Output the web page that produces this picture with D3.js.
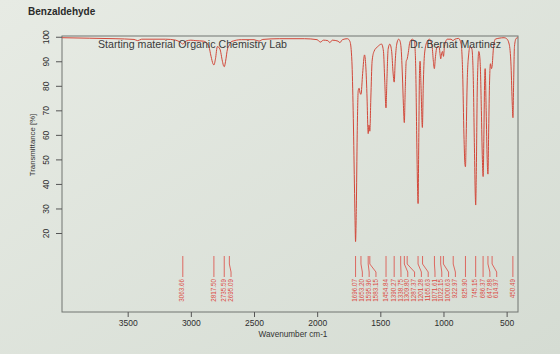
<!DOCTYPE html>
<html>
<head>
<meta charset="utf-8">
<script src="https://cdn.jsdelivr.net/npm/d3@7"></script>
<style>
body{margin:0;background:#dfe4dc;}
svg{display:block;font-family:"Liberation Sans",Arial,sans-serif;}
</style>
</head>
<body>
<svg class="graph1"></svg>
<script>
// spectrum (wavenumber cm-1, transmittance %)
var wavenumbers = [4020,3800,3600,3450,3420,3390,3200,3120,3085,3063,3040,3000,2960,2900,
    2860,2840,2825,2817,2805,2790,2770,2750,2740,2735,2725,2710,2695,2680,2600,2500,2460,2430,
    2300,2100,2000,1975,1950,1915,1900,1880,1835,1820,1800,1760,1740,1725,1715,1705,1700,1696,
    1690,1683,1675,1668,1660,1653,1640,1625,1615,1605,1598,1596,1590,1583,1575,1565,1550,1520,
    1490,1475,1465,1455,1448,1438,1425,1410,1400,1390,1382,1370,1355,1345,1335,1325,1317,1310,
    1303,1295,1287,1280,1265,1245,1230,1220,1212,1205,1201,1196,1190,1185,1178,1167,1160,1150,
    1130,1110,1090,1080,1072,1065,1050,1035,1025,1022,1015,1008,1000,992,970,940,925,910,880,
    860,848,838,830,826,820,812,800,790,775,765,755,748,745,740,732,720,710,700,692,686,680,
    675,670,662,654,648,642,635,628,620,615,605,590,560,520,500,480,465,455,450,445,438,425,412];
var transmittance = [99.6,99.4,99.2,98.9,98.4,99.0,99.0,98.6,97.8,97.0,98.2,98.6,98.4,98.2,
    96.5,92,89,88.5,91,96,95,90,88,87.8,90,95,96.5,98,98.8,98.8,98.2,98.9,
    99.2,99.2,98.8,97.8,98.6,98.4,97.6,98.6,98.2,97.6,98.8,99.2,98,90,70,40,25,16.5,
    30,60,78,79,77,76.5,85,92.6,88,75,62,60.5,64,61.5,75,90,94,96,
    97,94,82,71,82,95,97,94,86,81.5,90,97,99,98.4,95,84,72,65,
    78,90,91,93,98,99,98,88,60,38,32,55,85,90,80,63,80,93,
    98,99,96,90,87,91,96,96,92,91,93,94,92,96,99,99,98.4,99,99.3,
    97,85,60,48,47,60,82,93,96,95,85,55,35,31.4,45,80,94,90,70,50,43,60,
    80,87,70,50,44,62,82,89,87,88,95,99,99.4,99.6,99.2,97,88,72,67,80,96,99.3,99.6];

// picked peaks printed at the bottom
var peakLabels = [3063.66,2817.50,2735.59,2695.09,1696.07,1653.20,1595.96,1583.15,1454.84,
    1390.27,1338.75,1309.80,1287.37,1201.28,1165.63,1071.61,1022.15,1000.63,922.97,825.90,
    745.15,686.37,647.88,614.97,450.49];

var xTicks = [3500,3000,2500,2000,1500,1000,500];
var yTicks = [20,30,40,50,60,70,80,90,100];

var makeTranslateString = function(x,y)
{
    return "translate("+x+","+y+")";
}

var drawBox = function(svg,xScale,yScale)
{
    var r = xScale.range(), h = yScale.range();
    svg.append("rect")
    .attr("x", r[0])
    .attr("y", h[1])
    .attr("width", r[1]-r[0])
    .attr("height", h[0]-h[1])
    .attr("fill", "none")
    .attr("stroke", "#707570")
    .attr("stroke-width", 1)
}

var drawAxes = function(svg,xScale,yScale)
{
    var xAxis = d3.axisBottom(xScale).tickValues(xTicks).tickFormat(d3.format("d")).tickSize(5).tickPadding(3);
    var yAxis = d3.axisLeft(yScale).tickValues(yTicks).tickFormat(d3.format("d")).tickSize(6).tickPadding(3);

    var gx = svg.append("g")
    .attr("transform", makeTranslateString(0, yScale.range()[0]))
    .call(xAxis)
    gx.select(".domain").remove();
    gx.selectAll("line").attr("stroke", "#555");
    gx.selectAll("text")
    .attr("font-size", 8.5)
    .attr("fill", "#2e2e2e")

    var gy = svg.append("g")
    .attr("transform", makeTranslateString(xScale.range()[0], 0))
    .call(yAxis)
    gy.select(".domain").remove();
    gy.selectAll("line").attr("stroke", "#555");
    gy.selectAll("text")
    .attr("font-size", 8.5)
    .attr("fill", "#2e2e2e")
    .attr("text-anchor", "middle")
    .attr("dy", null)
    .attr("dominant-baseline", "middle")
    .attr("x", null)
    .attr("transform", "translate(-15,0) rotate(-90)")
}

var drawSpectrum = function(svg,xScale,yScale)
{
    var pts = wavenumbers.map(function(w,i){ return {wn:w, t:transmittance[i]}; });
    var line = d3.line()
        .x(function(d){ return xScale(d.wn); })
        .y(function(d){ return yScale(d.t); })
        .curve(d3.curveMonotoneX);

    svg.append("path")
    .datum(pts)
    .attr("d", line)
    .attr("fill", "none")
    .attr("stroke", "#d2483a")
    .attr("stroke-width", 1)
}

var drawPeaks = function(svg,xScale)
{
    // spread labels so they do not overlap
    var gap = 6.8, last = -100;
    var peaks = peakLabels.map(function(w){
        var xp = xScale(w);
        var xl = Math.max(xp, last+gap);
        last = xl;
        return {wn:w, xp:xp, xl:xl};
    });

    var g = svg.append("g").classed("peaks", true);

    g.selectAll("path")
    .data(peaks)
    .enter()
    .append("path")
    .attr("d", function(d){
        return "M"+d.xp+",256V264L"+d.xl+",272V277";
    })
    .attr("fill", "none")
    .attr("stroke", "#dc5a52")
    .attr("stroke-width", 0.9)

    g.selectAll("text")
    .data(peaks)
    .enter()
    .append("text")
    .text(function(d){ return d.wn.toFixed(2); })
    .attr("transform", function(d){ return makeTranslateString(d.xl, 279)+" rotate(-90)"; })
    .attr("text-anchor", "end")
    .attr("dominant-baseline", "middle")
    .attr("font-size", 6.3)
    .attr("fill", "#dc4a44")
}

var drawLabels = function(svg)
{
    svg.append("text")
    .text("Benzaldehyde")
    .attr("x", 28)
    .attr("y", 15)
    .attr("font-size", 10)
    .attr("font-weight", "bold")
    .attr("fill", "#2a2a2a")

    svg.append("text")
    .text("Starting material Organic Chemistry Lab")
    .attr("x", 98)
    .attr("y", 48)
    .attr("font-size", 10.5)
    .attr("textLength", 189)
    .attr("lengthAdjust", "spacingAndGlyphs")
    .attr("fill", "#3a3a3a")

    svg.append("text")
    .text("Dr. Bernat Martinez")
    .attr("x", 410)
    .attr("y", 48)
    .attr("font-size", 10.5)
    .attr("textLength", 91)
    .attr("lengthAdjust", "spacingAndGlyphs")
    .attr("fill", "#3a3a3a")

    svg.append("text")
    .text("Wavenumber cm-1")
    .attr("x", 293)
    .attr("y", 337)
    .attr("text-anchor", "middle")
    .attr("font-size", 8.2)
    .attr("fill", "#333")

    svg.append("g")
    .attr("transform", makeTranslateString(33, 145))
    .append("text")
    .text("Transmittance [%]")
    .attr("text-anchor", "middle")
    .attr("dominant-baseline", "middle")
    .attr("font-size", 7.8)
    .attr("fill", "#333")
    .attr("transform", "rotate(-90)")
}

var initGraph = function()
{
    var screen = {width:560,height:354}
    var plot = {left:62,right:518,top:36,bottom:312}

    var svg = d3.select(".graph1")
    .attr("width", screen.width)
    .attr("height", screen.height)

    var defs = svg.append("defs");
    var grad = defs.append("linearGradient")
    .attr("id", "bg")
    .attr("x1", 0).attr("y1", 0).attr("x2", 1).attr("y2", 1);
    grad.append("stop").attr("offset", 0).attr("stop-color", "#e7ebe4");
    grad.append("stop").attr("offset", 1).attr("stop-color", "#d5dcd3");
    svg.append("rect")
    .attr("width", screen.width)
    .attr("height", screen.height)
    .attr("fill", "url(#bg)")

    var xScale = d3.scaleLinear()
        .domain([4020,410])
        .range([plot.left,plot.right])

    var yScale = d3.scaleLinear()
        .domain([-12.2,100.3])
        .range([plot.bottom,plot.top])

    drawBox(svg,xScale,yScale);
    drawAxes(svg,xScale,yScale);
    drawSpectrum(svg,xScale,yScale);
    drawPeaks(svg,xScale);
    drawLabels(svg);
}

initGraph();
</script>
</body>
</html>
